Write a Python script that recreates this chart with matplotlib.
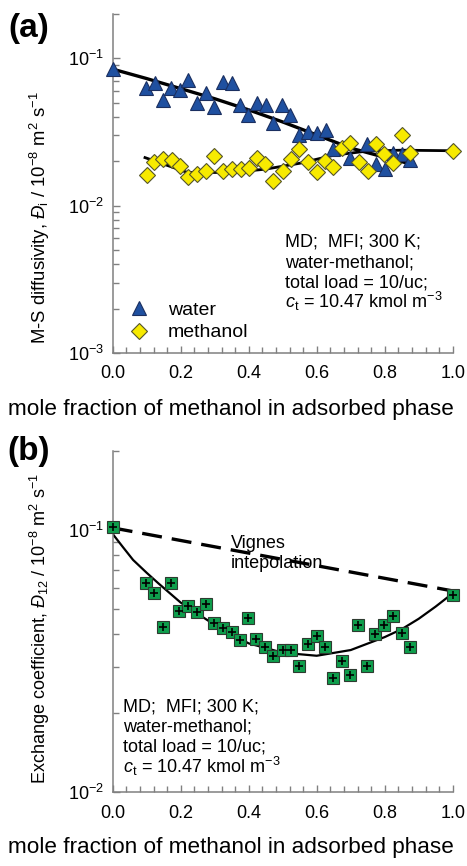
#!/usr/bin/env python3

# Water-methanol mixture diffusion in MFI (MD data): M-S diffusivities (a)
# and exchange coefficient (b) versus methanol mole fraction.

import matplotlib
matplotlib.use("Agg")
import matplotlib.pyplot as plt
from matplotlib.lines import Line2D

matplotlib.rc("font", family="Liberation Sans", size=12)
matplotlib.rc("mathtext", fontset="custom", rm="Liberation Sans",
              it="Liberation Sans:italic", bf="Liberation Sans:bold")

# Colours
waterColour = "#1F50A0"
methanolColour = "#F7EA00"
exchangeColour = "#0E9E4C"
axisColour = "#808080"

# Panel (a): M-S diffusivity of water
xWater = [0.0, 0.098, 0.124, 0.147, 0.171, 0.198, 0.222, 0.247, 0.274,
          0.298, 0.324, 0.350, 0.374, 0.399, 0.424, 0.450, 0.472, 0.497,
          0.521, 0.549, 0.575, 0.600, 0.626, 0.649, 0.698, 0.747, 0.774,
          0.801, 0.825, 0.850, 0.875]
dWater = [0.0845, 0.0633, 0.0678, 0.0518, 0.0626, 0.0607, 0.0710, 0.0499,
          0.0578, 0.0467, 0.0696, 0.0682, 0.0486, 0.0415, 0.0497, 0.0482,
          0.0364, 0.0479, 0.0412, 0.0303, 0.0316, 0.0311, 0.0328, 0.0243,
          0.0210, 0.0262, 0.0191, 0.0177, 0.0227, 0.0224, 0.0204]
xWaterFit = [0.0, 0.1, 0.2, 0.3, 0.4, 0.5, 0.6, 0.7, 0.8, 0.88]
dWaterFit = [0.0845, 0.0729, 0.0623, 0.0532, 0.0447, 0.0370, 0.0302,
             0.0246, 0.0213, 0.0191]

# Panel (a): M-S diffusivity of methanol
xMethanol = [0.100, 0.122, 0.149, 0.174, 0.198, 0.222, 0.247, 0.274, 0.298,
             0.324, 0.350, 0.377, 0.402, 0.424, 0.448, 0.472, 0.500, 0.524,
             0.548, 0.575, 0.600, 0.624, 0.649, 0.674, 0.698, 0.725, 0.750,
             0.774, 0.798, 0.824, 0.850, 0.874, 1.0]
dMethanol = [0.0161, 0.0197, 0.0207, 0.0204, 0.0187, 0.0157, 0.0163, 0.0172,
             0.0219, 0.0173, 0.0177, 0.0177, 0.0179, 0.0212, 0.0191, 0.0148,
             0.0173, 0.0207, 0.0244, 0.0197, 0.0168, 0.0202, 0.0184, 0.0248,
             0.0266, 0.0199, 0.0172, 0.0262, 0.0224, 0.0196, 0.0300, 0.0229,
             0.0236]
xMethanolFit = [0.095, 0.22, 0.35, 0.45, 0.55, 0.65, 0.75, 0.85, 1.0]
dMethanolFit = [0.0212, 0.0168, 0.0168, 0.0177, 0.0194, 0.0220, 0.0235,
                0.0238, 0.0236]

# Panel (b): exchange coefficient
xExchange = [0.0, 0.098, 0.122, 0.147, 0.171, 0.196, 0.222, 0.247, 0.274,
             0.298, 0.324, 0.350, 0.374, 0.399, 0.422, 0.448, 0.472, 0.500,
             0.524, 0.549, 0.574, 0.600, 0.624, 0.649, 0.674, 0.698, 0.722,
             0.747, 0.772, 0.798, 0.824, 0.850, 0.874, 1.0]
dExchange = [0.1029, 0.0626, 0.0573, 0.0425, 0.0629, 0.0491, 0.0514, 0.0485,
             0.0522, 0.0440, 0.0421, 0.0409, 0.0380, 0.0460, 0.0383, 0.0359,
             0.0330, 0.0348, 0.0348, 0.0303, 0.0367, 0.0394, 0.0356, 0.0272,
             0.0316, 0.0280, 0.0433, 0.0303, 0.0401, 0.0434, 0.0470, 0.0406,
             0.0357, 0.0565]
xExchangeFit = [0.0, 0.03, 0.06, 0.1, 0.134, 0.2, 0.3, 0.4, 0.5, 0.6, 0.7,
                0.8, 0.85, 0.9, 0.95, 1.0]
dExchangeFit = [0.0965, 0.0860, 0.0768, 0.0686, 0.0626, 0.0528, 0.0434,
                0.0369, 0.0340, 0.0331, 0.0348, 0.0390, 0.0418, 0.0458,
                0.0510, 0.0573]
xVignes = [0.0, 1.0]
dVignes = [0.1018, 0.0585]

xLabel = "mole fraction of methanol in adsorbed phase"
conditions = ["MD;  MFI; 300 K;", "water-methanol;", "total load = 10/uc;",
              r"$c_\mathrm{t}$ = 10.47 kmol m$^{-3}$"]

W, H = 467, 866
figure = plt.figure(figsize=(W / 100, H / 100), dpi=100)


def frac(x, y):
    return x / W, 1 - y / H


def style(axes, ylim):
    axes.set_yscale("log")
    axes.set_xlim(0, 1)
    axes.set_ylim(*ylim)
    axes.set_xticks([0, 0.2, 0.4, 0.6, 0.8, 1.0])
    axes.set_xticks([i * 0.04 for i in range(26)], minor=True)
    axes.xaxis.set_major_formatter(plt.FormatStrFormatter("%.1f"))
    axes.spines["right"].set_visible(False)
    axes.spines["top"].set_visible(False)
    for s in ("left", "bottom"):
        axes.spines[s].set_color(axisColour)
        axes.spines[s].set_linewidth(1.1)
    axes.tick_params(which="both", direction="in", color=axisColour,
                     width=1.0, labelsize=13)
    axes.tick_params(which="major", length=5)
    axes.tick_params(which="minor", length=4)
    axes.tick_params(axis="x", which="major", pad=9)
    axes.tick_params(axis="y", which="major", pad=6)
    axes.yaxis.set_minor_formatter(plt.NullFormatter())
    axes.patch.set_alpha(0)


# ---- Panel (a)
axA = figure.add_axes([112.7 / W, 1 - 353 / H, 340 / W, 339 / H])
style(axA, (1e-3, 0.2))
axA.plot(xWaterFit, dWaterFit, color="black", lw=2.4, zorder=2)
axA.plot(xMethanolFit, dMethanolFit, color="black", lw=2.0, zorder=2)
axA.plot(xWater, dWater, ls="none", marker="^", ms=10, mfc=waterColour,
         mec="#1B2F60", mew=0.8, zorder=3, clip_on=False)
axA.plot(xMethanol, dMethanol, ls="none", marker="D", ms=8.5,
         mfc=methanolColour, mec="#55552A", mew=0.8, zorder=4, clip_on=False)

handles = [Line2D([], [], ls="none", marker="^", ms=10, mfc=waterColour,
                  mec="#1B2F60", mew=0.8),
           Line2D([], [], ls="none", marker="D", ms=8.5, mfc=methanolColour,
                  mec="#55552A", mew=0.8)]
axA.legend(handles, ["water", "methanol"], loc="lower left",
           bbox_to_anchor=(0.0, 0.0), frameon=False, fontsize=14,
           handletextpad=0.75, labelspacing=0.25, handlelength=1.5,
           borderaxespad=0.2)

for i, line in enumerate(conditions):
    figure.text(*frac(285, 246.7 + 20.5 * i), line, fontsize=13,
                va="baseline", ha="left")

figure.text(*frac(231, 410), xLabel, fontsize=16.2, ha="center",
            va="center")
figure.text(*frac(40, 218),
            r"M-S diffusivity, $Đ_\mathrm{i}$ / 10$^{-8}$ m$^2$ s$^{-1}$",
            fontsize=13.3, rotation=90, ha="center", va="center")
figure.text(*frac(29, 28), "(a)", fontsize=24, fontweight="bold",
            ha="center", va="center")

# ---- Panel (b)
axB = figure.add_axes([112.7 / W, 1 - 792 / H, 340 / W, 341 / H])
style(axB, (1e-2, 0.2))
axB.plot(xVignes, dVignes, color="black", lw=2.4, ls=(0, (6, 3)), zorder=2)
axB.plot(xExchangeFit, dExchangeFit, color="black", lw=1.6, zorder=2)
axB.plot(xExchange, dExchange, ls="none", marker="s", ms=9,
         mfc=exchangeColour, mec="#2E3A30", mew=0.8, zorder=3, clip_on=False)
axB.plot(xExchange, dExchange, ls="none", marker="+", ms=6, mec="black",
         mew=1.2, zorder=4, clip_on=False)

figure.text(*frac(231, 548.3), "Vignes", fontsize=13, va="baseline")
figure.text(*frac(231, 568.3), "intepolation", fontsize=13, va="baseline")

for i, line in enumerate(conditions):
    figure.text(*frac(123, 711 + 20.5 * i), line, fontsize=13,
                va="baseline", ha="left")

figure.text(*frac(231, 848), xLabel, fontsize=16.2, ha="center",
            va="center")
figure.text(*frac(40, 628),
            r"Exchange coefficient, $Đ_{12}$ / 10$^{-8}$ m$^2$ s$^{-1}$",
            fontsize=13, rotation=90, ha="center", va="center")
figure.text(*frac(29, 451), "(b)", fontsize=24, fontweight="bold",
            ha="center", va="center")

figure.savefig("out.png", dpi=100)
